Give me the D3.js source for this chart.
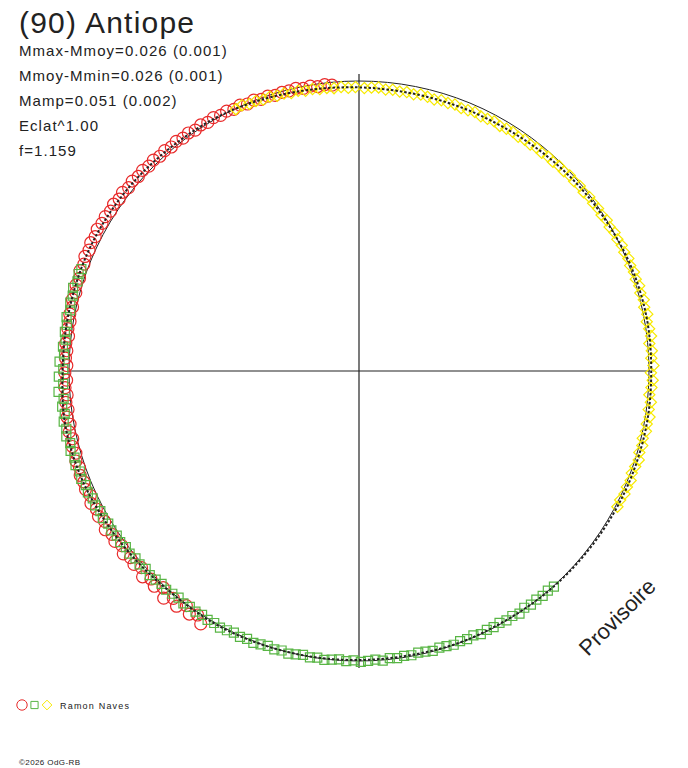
<!DOCTYPE html>
<html>
<head>
<meta charset="utf-8">
<script src="https://cdn.jsdelivr.net/npm/d3@7"></script>
<style>
  body { margin: 0; background: #fff; }
  svg { display: block; font-family: "Liberation Sans", Arial, sans-serif; }
</style>
</head>
<body>
<svg id="chart" width="688" height="768"></svg>
<script>
// header texts
const title = "(90) Antiope";
const statLines = [
  "Mmax-Mmoy=0.026 (0.001)",
  "Mmoy-Mmin=0.026 (0.001)",
  "Mamp=0.051 (0.002)",
  "Eclat^1.00",
  "f=1.159"
];
const observer = "Ramon Naves";
const credit = "\u00A92026 OdG-RB";
const stamp = "Provisoire";

// fitted curve : [phase, delta mag]
const model = [
  [0.000, 0.020], [0.028, 0.023], [0.056, 0.023], [0.083, 0.021], [0.111, 0.015],
  [0.139, 0.008], [0.167, 0.002], [0.194, -0.005], [0.222, -0.008], [0.250, -0.007],
  [0.278, -0.008], [0.306, -0.007], [0.333, -0.005], [0.361, -0.003], [0.389, -0.001],
  [0.417, 0.002], [0.444, 0.001], [0.472, 0.004], [0.500, 0.003], [0.528, 0.001],
  [0.556, -0.001], [0.583, -0.003], [0.611, -0.002], [0.639, -0.008], [0.667, -0.016],
  [0.694, -0.024], [0.722, -0.027], [0.750, -0.020], [0.778, -0.019], [0.806, -0.019],
  [0.833, -0.017], [0.861, -0.013], [0.889, -0.007], [0.917, -0.003], [0.944, 0.005],
  [0.972, 0.014]
];

// observations, session 1 (circles)
const obsRed = [
  [0.589, -0.026], [0.593, -0.008], [0.597, -0.020], [0.601, -0.004], [0.605, -0.024],
  [0.609, -0.011], [0.613, -0.030], [0.617, -0.006], [0.621, -0.022], [0.625, -0.013],
  [0.629, -0.027], [0.633, -0.010], [0.637, -0.021], [0.641, -0.016], [0.645, -0.026],
  [0.649, -0.014], [0.653, -0.024], [0.657, -0.019], [0.661, -0.029], [0.665, -0.017],
  [0.669, -0.026], [0.673, -0.021], [0.677, -0.028], [0.681, -0.019], [0.685, -0.025],
  [0.689, -0.021], [0.693, -0.024], [0.697, -0.018], [0.701, -0.022], [0.705, -0.015],
  [0.709, -0.020], [0.713, -0.013], [0.717, -0.019], [0.721, -0.012], [0.725, -0.017],
  [0.729, -0.011], [0.733, -0.015], [0.737, -0.009], [0.741, -0.014], [0.745, -0.008],
  [0.749, -0.013], [0.753, -0.007], [0.757, -0.012], [0.761, -0.009], [0.765, -0.014],
  [0.769, -0.008], [0.773, -0.013], [0.777, -0.010], [0.781, -0.015], [0.785, -0.011],
  [0.789, -0.017], [0.793, -0.012], [0.797, -0.018], [0.801, -0.014], [0.805, -0.020],
  [0.809, -0.016], [0.813, -0.022], [0.817, -0.018], [0.821, -0.023], [0.825, -0.019],
  [0.829, -0.024], [0.833, -0.020], [0.837, -0.022], [0.841, -0.017], [0.845, -0.021],
  [0.849, -0.016], [0.853, -0.020], [0.857, -0.014], [0.861, -0.018], [0.865, -0.013],
  [0.869, -0.016], [0.873, -0.011], [0.877, -0.014], [0.881, -0.009], [0.885, -0.012],
  [0.889, -0.007], [0.893, -0.011], [0.897, -0.006], [0.901, -0.009], [0.905, -0.004],
  [0.909, -0.008], [0.913, -0.003], [0.917, -0.007], [0.921, -0.002], [0.925, -0.005],
  [0.929, 0.000], [0.933, -0.004], [0.937, 0.002], [0.941, -0.002], [0.945, 0.004],
  [0.949, 0.001], [0.953, 0.006], [0.957, 0.003], [0.961, 0.004], [0.965, 0.001],
  [0.969, 0.006], [0.973, 0.003], [0.977, 0.008], [0.981, 0.005], [0.985, 0.009]
];

// session 2 (squares)
const obsGreen = [
  [0.383, -0.002], [0.387, 0.001], [0.391, -0.001], [0.395, 0.002], [0.399, 0.000],
  [0.403, 0.004], [0.407, -0.003], [0.411, 0.003], [0.415, 0.001], [0.419, 0.005],
  [0.423, 0.002], [0.427, 0.004], [0.431, 0.000], [0.435, 0.006], [0.439, 0.003],
  [0.443, 0.005], [0.447, 0.001], [0.451, 0.004], [0.455, 0.006], [0.459, 0.002],
  [0.463, 0.005], [0.467, 0.007], [0.471, 0.003], [0.475, 0.005], [0.479, 0.001],
  [0.483, 0.004], [0.487, -0.002], [0.491, 0.003], [0.495, 0.000], [0.499, -0.003],
  [0.503, 0.002], [0.507, -0.001], [0.511, 0.003], [0.515, 0.000], [0.519, -0.003],
  [0.523, 0.001], [0.527, -0.002], [0.531, 0.002], [0.535, -0.001], [0.539, -0.004],
  [0.543, 0.000], [0.547, -0.003], [0.551, 0.001], [0.555, -0.002], [0.559, -0.005],
  [0.563, -0.001], [0.567, -0.004], [0.571, 0.000], [0.575, -0.003], [0.579, -0.006],
  [0.583, -0.002], [0.587, -0.004], [0.591, 0.000], [0.595, -0.003], [0.599, -0.001],
  [0.603, -0.004], [0.607, 0.001], [0.611, -0.002], [0.615, -0.005], [0.619, -0.001],
  [0.623, -0.004], [0.627, -0.007], [0.631, -0.003], [0.635, -0.008], [0.639, -0.005],
  [0.643, -0.010], [0.647, -0.007], [0.651, -0.012], [0.655, -0.009], [0.659, -0.014],
  [0.663, -0.011], [0.667, -0.017], [0.671, -0.013], [0.675, -0.019], [0.679, -0.016],
  [0.683, -0.022], [0.687, -0.019], [0.691, -0.025], [0.695, -0.021], [0.699, -0.027],
  [0.703, -0.023], [0.707, -0.029], [0.711, -0.024], [0.715, -0.031], [0.719, -0.026],
  [0.723, -0.030], [0.727, -0.023], [0.731, -0.028], [0.735, -0.021], [0.739, -0.035],
  [0.743, -0.019], [0.747, -0.032], [0.751, -0.018], [0.755, -0.030], [0.759, -0.017],
  [0.763, -0.022], [0.767, -0.016], [0.771, -0.021], [0.775, -0.018], [0.779, -0.023],
  [0.783, -0.016], [0.787, -0.021], [0.791, -0.019], [0.795, -0.024], [0.799, -0.017],
  [0.803, -0.021], [0.806, -0.018]
];

// session 3 (diamonds)
const obsYellow = [
  [0.930, 0.002], [0.934, -0.001], [0.938, 0.004], [0.942, 0.003], [0.946, 0.007],
  [0.950, 0.005], [0.954, 0.009], [0.958, 0.008], [0.962, 0.012], [0.966, 0.010],
  [0.970, 0.015], [0.974, 0.013], [0.978, 0.017], [0.982, 0.016], [0.986, 0.019],
  [0.990, 0.017], [0.994, 0.021], [0.998, 0.019], [0.003, 0.022], [0.007, 0.020],
  [0.011, 0.018], [0.015, 0.023], [0.019, 0.021], [0.023, 0.024], [0.027, 0.022],
  [0.031, 0.025], [0.035, 0.021], [0.039, 0.023], [0.043, 0.026], [0.047, 0.022],
  [0.051, 0.024], [0.055, 0.021], [0.059, 0.025], [0.063, 0.023], [0.067, 0.020],
  [0.071, 0.024], [0.075, 0.022], [0.079, 0.019], [0.083, 0.023], [0.087, 0.020],
  [0.091, 0.018], [0.095, 0.021], [0.099, 0.017], [0.103, 0.019], [0.107, 0.015],
  [0.111, 0.017], [0.115, 0.013], [0.119, 0.015], [0.123, 0.011], [0.127, 0.012],
  [0.131, 0.008], [0.135, 0.010], [0.139, 0.006], [0.143, 0.009], [0.147, 0.004],
  [0.151, 0.006], [0.155, 0.003], [0.159, 0.005], [0.163, 0.000], [0.167, 0.003],
  [0.171, -0.002], [0.175, 0.000], [0.179, -0.004], [0.183, -0.002], [0.187, -0.006],
  [0.191, -0.003], [0.195, -0.007], [0.199, -0.005], [0.203, -0.009], [0.207, -0.006],
  [0.211, -0.011], [0.215, -0.007], [0.219, -0.012], [0.223, -0.006], [0.227, -0.010],
  [0.231, -0.013], [0.235, -0.005], [0.239, -0.011], [0.243, -0.008], [0.247, -0.014],
  [0.251, -0.006], [0.255, -0.012], [0.259, -0.009], [0.263, -0.004], [0.267, -0.011],
  [0.271, -0.007], [0.275, -0.013], [0.279, -0.008], [0.283, -0.010], [0.287, -0.005],
  [0.291, -0.009], [0.295, -0.006], [0.299, -0.011], [0.303, -0.007], [0.307, -0.004],
  [0.311, -0.009], [0.315, -0.006], [0.319, -0.008], [0.323, -0.004], [0.327, -0.006]
];

const svg = d3.select("#chart");
const cx = 359, cy = 371;
const ink = "#222";

// phase -> angle (clockwise from top), delta mag -> radius (brighter = further out)
const aScale = d3.scaleLinear().domain([0, 1]).range([0, 2 * Math.PI]);
const rScale = d3.scaleLinear().domain([-0.03, 0.03]).range([299.6, 280.4]);

const g = svg.append("g").attr("transform", `translate(${cx},${cy})`);

// cross hair
g.append("line").attr("x1", -290).attr("x2", 291).attr("y1", 0).attr("y2", 0)
  .attr("stroke", ink).attr("stroke-width", 1.2);
g.append("line").attr("x1", 0).attr("x2", 0).attr("y1", -297).attr("y2", 297)
  .attr("stroke", ink).attr("stroke-width", 1.2);

// reference circle at mean magnitude
g.append("circle").attr("r", rScale(0))
  .attr("fill", "none").attr("stroke", ink).attr("stroke-width", 1);

const pos = d => d3.pointRadial(aScale(d[0]), rScale(d[1]));

const series = [
  { data: obsRed, color: "#e82a2a", type: d3.symbolCircle, size: 113 },
  { data: obsGreen, color: "#58b544", type: d3.symbolSquare, size: 81 },
  { data: obsYellow, color: "#f7ea00", type: d3.symbolDiamond2, size: 80 }
];

series.forEach(s => {
  g.append("g").selectAll("path")
    .data(s.data)
    .join("path")
    .attr("d", d3.symbol().type(s.type).size(s.size))
    .attr("transform", d => `translate(${pos(d)})`)
    .attr("fill", "none")
    .attr("stroke", s.color)
    .attr("stroke-width", 1.2);
});

// fitted curve, dotted
const curve = d3.lineRadial()
  .angle(d => aScale(d[0]))
  .radius(d => rScale(d[1]))
  .curve(d3.curveCardinalClosed);

g.append("path")
  .datum(model)
  .attr("d", curve)
  .attr("fill", "none")
  .attr("stroke", ink)
  .attr("stroke-width", 2)
  .attr("stroke-dasharray", "2.5,2");

// texts
svg.append("text").attr("x", 19).attr("y", 33)
  .attr("font-size", 30).attr("letter-spacing", 1.2).attr("fill", ink)
  .text(title);

svg.selectAll("text.stat")
  .data(statLines)
  .join("text")
  .attr("class", "stat")
  .attr("x", 19)
  .attr("y", (d, i) => 56 + i * 25)
  .attr("font-size", 15)
  .attr("letter-spacing", 1.05)
  .attr("fill", ink)
  .text(d => d);

svg.append("text")
  .attr("transform", "translate(588,657) rotate(-45)")
  .attr("font-size", 22).attr("fill", ink)
  .text(stamp);

// legend
const leg = svg.append("g").attr("transform", "translate(0,705)");
series.forEach((s, i) => {
  leg.append("path")
    .attr("d", d3.symbol().type(s.type).size(i === 0 ? 85 : i === 1 ? 52 : 60))
    .attr("transform", `translate(${22 + i * 12.5},0)`)
    .attr("fill", "none")
    .attr("stroke", s.color)
    .attr("stroke-width", 1);
});
leg.append("text").attr("x", 60).attr("y", 4)
  .attr("font-size", 9).attr("letter-spacing", 1.2).attr("fill", ink)
  .text(observer);

svg.append("text").attr("x", 19).attr("y", 765)
  .attr("font-size", 8).attr("letter-spacing", 0.4).attr("fill", ink)
  .text(credit);
</script>
</body>
</html>
